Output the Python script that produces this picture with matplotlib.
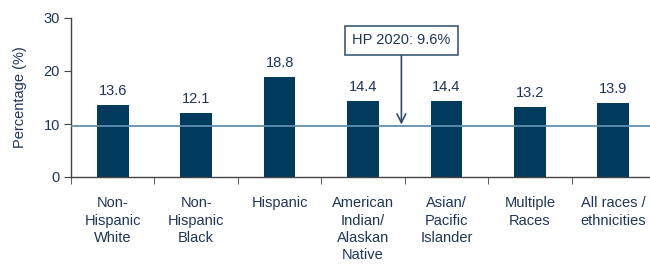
import numpy as np
import matplotlib.pyplot as plt

categories = ['Non-\nHispanic\nWhite', 'Non-\nHispanic\nBlack', 'Hispanic',
              'American\nIndian/\nAlaskan\nNative', 'Asian/\nPacific\nIslander',
              'Multiple\nRaces', 'All races /\nethnicities']
values = [13.6, 12.1, 18.8, 14.4, 14.4, 13.2, 13.9]
target = 9.6
target_label = 'HP 2020: 9.6%'

plt.rcParams['font.family'] = ['Liberation Sans', 'DejaVu Sans']
navy = '#003a5d'
text_col = '#1d3557'

fig = plt.figure(figsize=(6.5, 2.66), dpi=100)
ax = fig.add_axes([71 / 650, 1 - 177 / 266, 584 / 650, 159 / 266])

x = np.arange(len(categories))
ax.bar(x, values, width=0.38, color=navy, zorder=2)
for xi, v in zip(x, values):
    ax.annotate(f'{v:.1f}', (xi, v), xytext=(0, 5), textcoords='offset points',
                ha='center', va='bottom', fontsize=10.5, color=text_col)

ax.axhline(target, color='#5f8fb0', lw=1.3, zorder=3)

ax.annotate(target_label, xy=(3.46, target + 0.3), xytext=(3.46, 25.8),
            ha='center', va='center', fontsize=10.5, color=text_col,
            bbox=dict(boxstyle='square,pad=0.5', fc='white', ec='#3b5a78', lw=1.2),
            arrowprops=dict(arrowstyle='->,head_length=0.6,head_width=0.3',
                            color='#2f4d70', lw=1.2, shrinkA=0, shrinkB=0))

ax.set_xlim(-0.5, len(categories) - 0.5)
ax.set_ylim(0, 30)
ax.set_yticks([0, 10, 20, 30])
ax.set_xticks(x)
ax.set_xticklabels(categories, fontsize=10.5, color=text_col, linespacing=1.3, va='top')
ax.set_xticks(np.arange(len(categories) + 1) - 0.5, minor=True)
ax.tick_params(axis='x', which='major', length=0, pad=14)
ax.tick_params(axis='x', which='minor', length=5, direction='out', color='#444444')
ax.tick_params(axis='y', length=5, direction='out', color='#444444',
               labelsize=10.5, labelcolor=text_col, pad=3)
ax.set_ylabel('Percentage (%)', fontsize=10.5, color=text_col, labelpad=12)

for s in ['top', 'right']:
    ax.spines[s].set_visible(False)
for s in ['left', 'bottom']:
    ax.spines[s].set_color('#444444')
    ax.spines[s].set_linewidth(1)

fig.savefig('out.png', dpi=100)
